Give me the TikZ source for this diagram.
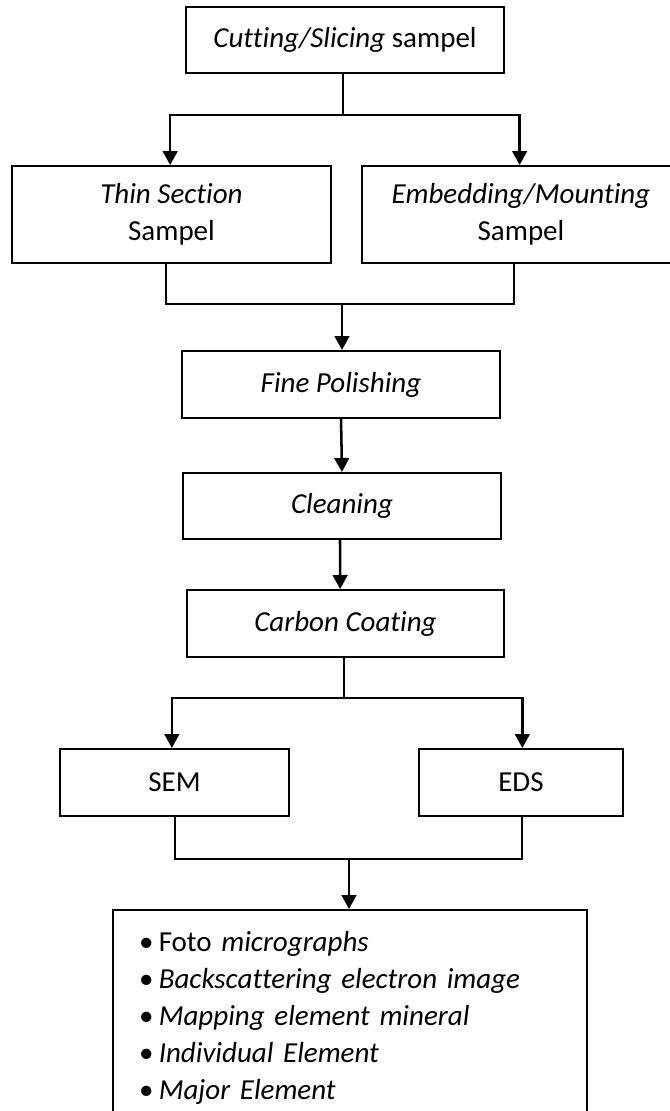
\documentclass[tikz,border=0pt]{standalone}
\usepackage{fontspec}
\setmainfont{Carlito}[Ligatures={NoCommon,NoContextual}]
\usetikzlibrary{positioning, arrows.meta}

\tikzset{
    box/.style={draw, line width=1.5pt, align=center, inner sep=0pt},
    link/.style={line width=1.5pt},
    flow/.style={line width=1.9pt, -{Triangle[length=10.5pt,width=11pt]}},
}

\begin{document}
\begin{tikzpicture}[x=0.75pt,y=0.75pt,yscale=-1,xscale=1,
        font=\fontsize{21.75}{27.5}\selectfont]
    %set diagram left start at 0, and has height of 1111
    \useasboundingbox (0,0) rectangle (670,1111);

    %Shape: Rectangle [cutting]
    \node (cut) [box, minimum width=238.5pt, minimum height=49.5pt] at (345,40) {\textit{Cutting/Slicing} sampel};
    %Shape: Rectangle [thin section]
    \node (thin) [box, minimum width=239.25pt, minimum height=72.75pt] at (171.5,214.5) {\textit{Thin Section}\\Sampel};
    %Shape: Rectangle [embedding]
    \node (embed) [box, minimum width=238.5pt, minimum height=72.75pt] at (521,214.5) {\textit{Embedding/Mounting}\\Sampel};
    %Shape: Rectangle [polishing]
    \node (polish) [box, minimum width=238.5pt, minimum height=50.25pt] at (341,384.5) {\textit{Fine Polishing}};
    %Shape: Rectangle [cleaning]
    \node (clean) [box, minimum width=238.5pt, minimum height=49.5pt] at (342,506) {\textit{Cleaning}};
    %Shape: Rectangle [coating]
    \node (coat) [box, minimum width=237.75pt, minimum height=50.25pt] at (345.5,623.5) {\textit{Carbon Coating}};
    %Shape: Rectangle [sem]
    \node (sem) [box, minimum width=171.75pt, minimum height=50.25pt] at (174.5,782.5) {SEM};
    %Shape: Rectangle [eds]
    \node (eds) [box, minimum width=153pt, minimum height=50.25pt] at (521,782.5) {EDS};
    %Shape: Rectangle [results]
    \node (result) [box, anchor=north west, align=left, text width=316.5pt, inner xsep=19.5pt, inner ysep=16pt,
        font=\fontsize{21.75}{27.75}\selectfont] at (112,909)
        {\textbullet\hspace{4pt}Foto \textit{micrographs}\\
         \textbullet\hspace{4pt}\textit{Backscattering electron image}\\
         \textbullet\hspace{4pt}\textit{Mapping element mineral}\\
         \textbullet\hspace{4pt}\textit{Individual Element}\\
         \textbullet\hspace{4pt}\textit{Major Element}\\[4pt]};

    %Straight Lines [split after cutting]
    \coordinate (s1) at (343,115);
    \draw [link] (s1 |- cut.south) -- (s1);
    \draw [flow] (s1) -| ([xshift=-1pt]thin.north);
    \draw [flow] (s1) -| ([xshift=-1pt]embed.north);

    %Straight Lines [merge into polishing]
    \coordinate (m1) at (342,304);
    \draw [link] ([xshift=-4pt]thin.south) |- (m1);
    \draw [link] ([xshift=-5pt]embed.south) |- (m1);
    \draw [flow] (m1) -- (m1 |- polish.north);

    %Straight Lines [polishing to coating]
    \draw [flow] (polish.south) -- (clean.north);
    \draw [flow] ([xshift=-1.5pt]clean.south) -- ([xshift=-4pt]coat.north);

    %Straight Lines [split after coating]
    \coordinate (s2) at (344,698);
    \draw [link] (s2 |- coat.south) -- (s2);
    \draw [flow] (s2) -| ([xshift=-2pt]sem.north);
    \draw [flow] (s2) -| ([xshift=1pt]eds.north);

    %Straight Lines [merge into results]
    \coordinate (m2) at (349,859);
    \draw [link] (sem.south) |- (m2);
    \draw [link] ([xshift=1pt]eds.south) |- (m2);
    \draw [flow] (m2) -- (m2 |- result.north);

\end{tikzpicture}
\end{document}
